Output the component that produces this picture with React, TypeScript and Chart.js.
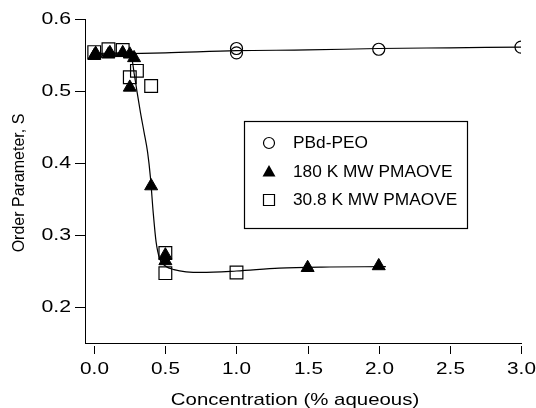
import React, { useEffect, useRef } from "react";
import { Chart, registerables } from "chart.js";

Chart.register(...registerables);

const FONT = "'Liberation Sans', Arial, Helvetica, sans-serif";

// Axis ticks
const xTicks = [0, 0.5, 1.0, 1.5, 2.0, 2.5, 3.0];
const yTicks = [0.2, 0.3, 0.4, 0.5, 0.6];

// Titles and series labels
const xTitle = "Concentration (% aqueous)";
const yTitle = "Order Parameter, S";
const seriesLabels = ["PBd-PEO", "180 K MW PMAOVE", "30.8 K MW PMAOVE"];

// PBd-PEO (open circles)
const pbdX = [1.0, 1.0, 2.0, 3.0];
const pbdY = [0.559, 0.553, 0.558, 0.561];

// 180 K MW PMAOVE (filled triangles)
const k180X = [0, 0.01, 0.1, 0.11, 0.2, 0.25, 0.28, 0.25, 0.4, 0.5, 0.5, 1.5, 2.0];
const k180Y = [0.549, 0.552, 0.551, 0.553, 0.553, 0.551, 0.546, 0.505, 0.368, 0.272, 0.264, 0.2545, 0.257];

// 30.8 K MW PMAOVE (open squares)
const k30X = [0, 0.1, 0.2, 0.25, 0.3, 0.4, 0.5, 0.5, 1.0];
const k30Y = [0.554, 0.558, 0.557, 0.519, 0.528, 0.507, 0.275, 0.247, 0.248];

// Fit curves
const fitPbdX = [0, 0.5, 1.0, 1.5, 2.0, 2.5, 3.0];
const fitPbdY = [0.551, 0.553, 0.556, 0.557, 0.559, 0.56, 0.561];

const fitPmaX = [0, 0.2, 0.25, 0.265, 0.28, 0.3, 0.325, 0.35, 0.375, 0.395, 0.415, 0.435, 0.46, 0.5, 0.56, 0.75, 1.0, 1.3, 1.6, 2.05];
const fitPmaY = [0.552, 0.553, 0.552, 0.545, 0.525, 0.5, 0.47, 0.443, 0.415, 0.38, 0.33, 0.29, 0.267, 0.257, 0.252, 0.248, 0.25, 0.254, 0.2555, 0.256];

const pts = (xs: number[], ys: number[]) => xs.map((x, i) => ({ x, y: ys[i] }));

function stretchText(ctx: CanvasRenderingContext2D, text: string, x: number, y: number, sx: number, align: CanvasTextAlign, size: number) {
  ctx.save();
  ctx.translate(x, y);
  ctx.scale(sx, 1);
  ctx.font = `${size}px ${FONT}`;
  ctx.textAlign = align;
  ctx.textBaseline = "middle";
  ctx.fillStyle = "#000";
  ctx.fillText(text, 0, 0);
  ctx.restore();
}

const igorPlugin = {
  id: "igorDecor",
  afterDraw(chart: any) {
    const ctx: CanvasRenderingContext2D = chart.ctx;
    const xs = chart.scales.x;
    const ys = chart.scales.y;
    const area = chart.chartArea;
    ctx.save();
    ctx.strokeStyle = "#000";
    ctx.lineWidth = 1;
    // detached x tick marks + labels
    xs.ticks.forEach((t: any) => {
      const px = Math.round(xs.getPixelForValue(t.value)) + 0.5;
      ctx.beginPath();
      ctx.moveTo(px, xs.top + 3);
      ctx.lineTo(px, xs.top + 11);
      ctx.stroke();
      stretchText(ctx, Number(t.value).toFixed(1), px, xs.top + 26, 1.22, "center", 17);
    });
    // y tick labels
    ys.ticks.forEach((t: any) => {
      const py = ys.getPixelForValue(t.value);
      stretchText(ctx, Number(t.value).toFixed(1), ys.right - 14, py, 1.25, "right", 17);
    });
    // axis titles
    stretchText(ctx, xTitle, (area.left + area.right) / 2 - 8, 400, 1.2, "center", 17);
    ctx.save();
    ctx.translate(20, (area.top + area.bottom) / 2 + 2);
    ctx.rotate(-Math.PI / 2);
    ctx.font = `16px ${FONT}`;
    ctx.textAlign = "center";
    ctx.textBaseline = "middle";
    ctx.fillStyle = "#000";
    ctx.fillText(yTitle, 0, 0);
    ctx.restore();

    // legend box
    const bx = 244.5, by = 121.5, bw = 223, bh = 107;
    ctx.lineWidth = 1.2;
    ctx.strokeRect(bx, by, bw, bh);
    const rows = [143, 171.5, 200];
    const mx = 269;
    ctx.fillStyle = "#000";
    rows.forEach((ry, i) => {
      ctx.lineWidth = 1.2;
      ctx.beginPath();
      if (i === 0) {
        ctx.arc(mx, ry, 5.5, 0, Math.PI * 2);
        ctx.stroke();
      } else if (i === 1) {
        ctx.moveTo(mx, ry - 6.5);
        ctx.lineTo(mx + 6.5, ry + 5);
        ctx.lineTo(mx - 6.5, ry + 5);
        ctx.closePath();
        ctx.fill();
      } else {
        ctx.rect(mx - 5.5, ry - 5.5, 11, 11);
        ctx.stroke();
      }
      stretchText(ctx, seriesLabels[i], 293, ry + 1, 1.08, "left", 16);
    });
    ctx.restore();
  },
};

export default function App() {
  const ref = useRef<HTMLCanvasElement | null>(null);
  useEffect(() => {
    if (!ref.current) return;
    const chart = new Chart(ref.current, {
      type: "scatter",
      data: {
        datasets: [
          {
            label: "fitPbd",
            data: pts(fitPbdX, fitPbdY),
            showLine: true,
            borderColor: "#000",
            borderWidth: 1.2,
            pointRadius: 0,
            cubicInterpolationMode: "monotone",
            fill: false,
          },
          {
            label: "fitPma",
            data: pts(fitPmaX, fitPmaY),
            showLine: true,
            borderColor: "#000",
            borderWidth: 1.2,
            pointRadius: 0,
            cubicInterpolationMode: "monotone",
            fill: false,
          },
          {
            label: seriesLabels[1],
            data: pts(k180X, k180Y),
            pointStyle: "triangle",
            pointRadius: 7.5,
            backgroundColor: "#000",
            borderColor: "#000",
            borderWidth: 1,
            showLine: false,
          },
          {
            label: seriesLabels[0],
            data: pts(pbdX, pbdY),
            pointStyle: "circle",
            pointRadius: 6,
            backgroundColor: "rgba(0,0,0,0)",
            borderColor: "#000",
            borderWidth: 1.2,
            showLine: false,
          },
          {
            label: seriesLabels[2],
            data: pts(k30X, k30Y),
            pointStyle: "rect",
            pointRadius: 9,
            backgroundColor: "rgba(0,0,0,0)",
            borderColor: "#000",
            borderWidth: 1.2,
            showLine: false,
          },
        ],
      },
      options: {
        animation: false,
        responsive: true,
        maintainAspectRatio: false,
        devicePixelRatio: 1,
        layout: { padding: { top: 19, right: 15, left: 0, bottom: 0 } },
        plugins: { legend: { display: false }, tooltip: { enabled: false } },
        events: [],
        scales: {
          x: {
            type: "linear",
            min: -0.065,
            max: 3.0,
            afterBuildTicks: (s: any) => {
              s.ticks = xTicks.map((v) => ({ value: v }));
            },
            ticks: { display: false },
            grid: { display: true, drawOnChartArea: false, drawTicks: false },
            border: { display: true, color: "#000", width: 1 },
            title: { display: false },
            afterFit: (s: any) => {
              s.height = 65;
              s.paddingLeft = 0;
              s.paddingRight = 0;
            },
          },
          y: {
            type: "linear",
            min: 0.15,
            max: 0.6,
            afterBuildTicks: (s: any) => {
              s.ticks = yTicks.map((v) => ({ value: v }));
            },
            ticks: { display: false },
            grid: {
              display: true,
              drawOnChartArea: false,
              drawTicks: true,
              tickLength: 10,
              color: "#000",
              lineWidth: 1,
            },
            border: { display: true, color: "#000", width: 1 },
            title: { display: false },
            afterFit: (s: any) => {
              s.width = 85;
              s.paddingTop = 0;
              s.paddingBottom = 0;
            },
          },
        },
      },
      plugins: [igorPlugin],
    });
    return () => chart.destroy();
  }, []);
  return (
    <div style={{ position: "fixed", left: 0, top: 0, width: 536, height: 408, background: "#fff" }}>
      <canvas ref={ref} />
    </div>
  );
}
